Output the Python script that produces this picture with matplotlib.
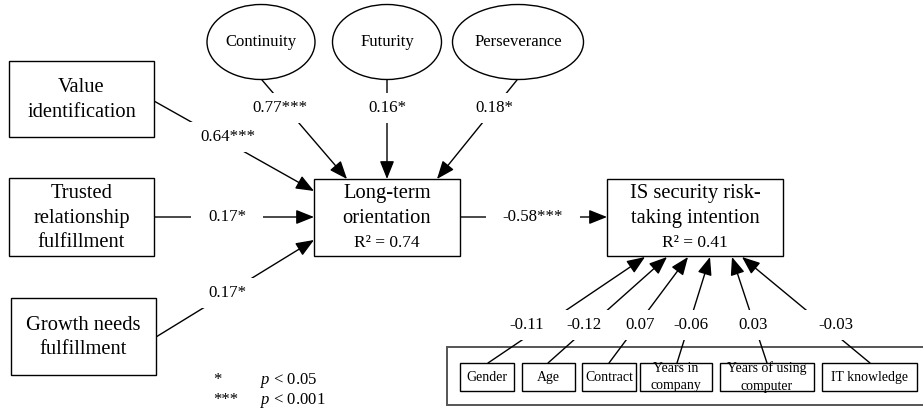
import matplotlib
matplotlib.use('Agg')
import matplotlib.pyplot as plt
from matplotlib.patches import Rectangle, Ellipse, FancyArrowPatch

plt.rcParams['font.family'] = ['Liberation Serif', 'DejaVu Serif']
plt.rcParams['mathtext.fontset'] = 'custom'
plt.rcParams['mathtext.rm'] = 'Liberation Serif'
plt.rcParams['mathtext.it'] = 'Liberation Serif:italic'

# ---- data ----
dimensions = ['Continuity', 'Futurity', 'Perseverance']
dimension_coefs = ['0.77***', '0.16*', '0.18*']

antecedents = ['Value\nidentification', 'Trusted\nrelationship\nfulfillment', 'Growth needs\nfulfillment']
antecedent_coefs = ['0.64***', '0.17*', '0.17*']

lto_label = 'Long-term\norientation'
lto_r2 = 0.74
outcome_label = 'IS security risk-\ntaking intention'
outcome_r2 = 0.41
lto_to_outcome = '-0.58***'

controls = ['Gender', 'Age', 'Contract', 'Years in\ncompany', 'Years of using\ncomputer', 'IT knowledge']
control_coefs = ['-0.11', '-0.12', '0.07', '-0.06', '0.03', '-0.03']

notes = [('*', '$\\mathit{p}$ < 0.05'), ('***', '$\\mathit{p}$ < 0.001')]

# ---- layout (pixel coordinates, y down) ----
ell_xy = [(261, 42), (387, 42), (518, 42)]
ell_w = [108, 109, 131]
ell_h = 75
dim_start = [(262, 80), (387, 80), (517, 80)]
dim_end = [(347, 179), (387, 179), (437, 179)]
dim_lab = [(280, 108), (387, 108), (494, 108)]

ante_box = [(9, 61, 145, 76), (9, 178, 145, 78), (11, 298, 145, 77)]
ante_start = [(154, 101), (154, 217), (156, 337)]
ante_end = [(314, 191), (314, 217), (314, 240)]
ante_lab = [(228, 137), (227, 217), (227, 293)]

lto_box = (314, 179, 146, 77)
out_box = (607, 179, 176, 77)

ctrl_box = [(460, 54), (522, 53), (582, 54), (640, 72), (720, 94), (822, 95)]
ctrl_y, ctrl_h = 363, 28
ctrl_start_x = [488, 548, 609, 677, 767, 870]
ctrl_end_x = [645, 667, 688, 710, 732, 742]
ctrl_lab_x = [527, 584, 640, 691, 753, 836]
ctrl_lab_y = 325

fig = plt.figure(figsize=(9.23, 4.11), dpi=100)
ax = fig.add_axes([0, 0, 1, 1])
ax.set_xlim(0, 923)
ax.set_ylim(411, 0)
ax.axis('off')

BOX_FS = 14.8
COEF_FS = 12.2


def arrow(p0, p1):
    a = FancyArrowPatch(p0, p1, arrowstyle='-|>,head_length=0.55,head_width=0.22',
                        mutation_scale=20, lw=1, color='k', shrinkA=0, shrinkB=0, zorder=1)
    ax.add_patch(a)


labels = []


def coef(x, y, s):
    t = ax.text(x, y, s, fontsize=COEF_FS, ha='center', va='center', zorder=4)
    labels.append(t)


def box(x, y, w, h, **kw):
    ax.add_patch(Rectangle((x, y), w, h, fc='white', ec=kw.get('ec', 'k'),
                           lw=kw.get('lw', 1), zorder=kw.get('zorder', 2)))


# dimensions of long-term orientation
for name, c, xy, w, p0, p1, lab in zip(dimensions, dimension_coefs, ell_xy, ell_w,
                                       dim_start, dim_end, dim_lab):
    ax.add_patch(Ellipse(xy, w, ell_h, fc='white', ec='k', lw=1, zorder=2))
    ax.text(xy[0], xy[1], name, fontsize=12, ha='center', va='center', zorder=3)
    arrow(p0, p1)
    coef(lab[0], lab[1], c)

# antecedents
for name, c, b, p0, p1, lab in zip(antecedents, antecedent_coefs, ante_box,
                                   ante_start, ante_end, ante_lab):
    box(*b)
    ax.text(b[0] + b[2] / 2, b[1] + b[3] / 2 + 1, name, fontsize=BOX_FS, ha='center',
            va='center', linespacing=1.4, zorder=3)
    arrow(p0, p1)
    coef(lab[0], lab[1], c)

# long-term orientation and outcome
for b, label, r2 in [(lto_box, lto_label, lto_r2), (out_box, outcome_label, outcome_r2)]:
    box(*b)
    cx = b[0] + b[2] / 2
    ax.text(cx, 206, label, fontsize=BOX_FS, ha='center', va='center',
            linespacing=1.4, zorder=3)
    ax.text(cx, 243, 'R\u00b2 = %.2f' % r2, fontsize=12.5, ha='center', va='center', zorder=3)

arrow((460, 217), (607, 217))
coef(533, 217, lto_to_outcome)

# control variables (outer frame runs off the right edge)
ax.plot([930, 447, 447, 930], [347, 347, 405, 405], color='#555555', lw=1.4,
        solid_joinstyle='miter', zorder=0.5)
for name, c, (bx, bw), sx, ex, lx in zip(controls, control_coefs, ctrl_box,
                                         ctrl_start_x, ctrl_end_x, ctrl_lab_x):
    box(bx, ctrl_y, bw, ctrl_h)
    ax.text(bx + bw / 2, ctrl_y + ctrl_h / 2, name, fontsize=10, ha='center',
            va='center', linespacing=1.45, zorder=3)
    arrow((sx, ctrl_y), (ex, 257))
    coef(lx, ctrl_lab_y, c)

# footnote
for (star, txt), y in zip(notes, [380, 400]):
    ax.text(213, y, star, fontsize=12, ha='left', va='center')
    ax.text(260, y, txt, fontsize=12, ha='left', va='center')

# white gaps behind coefficient labels
renderer = fig.canvas.get_renderer()
for t in labels:
    bb = t.get_window_extent(renderer=renderer)
    x, y = t.get_position()
    w = bb.width + 34
    ax.add_patch(Rectangle((x - w / 2, y - 15), w, 30, fc='white', ec='none', zorder=3))

fig.savefig('out.png', dpi=100)
